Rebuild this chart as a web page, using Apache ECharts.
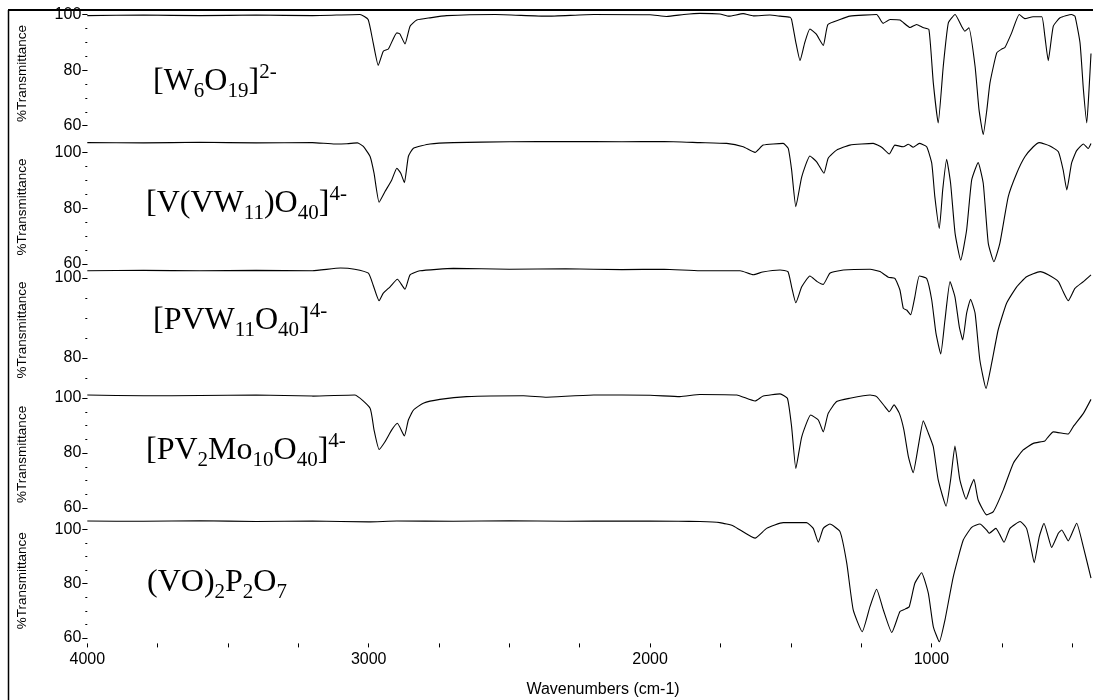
<!DOCTYPE html>
<html><head><meta charset="utf-8">
<script src="https://cdn.jsdelivr.net/npm/echarts@6/dist/echarts.min.js"></script>
<style>html,body{margin:0;padding:0;background:#fff}#c{width:1093px;height:700px}</style>
</head><body><div id="c"></div>
<script>
// ---- data: [wavenumber (cm-1), %Transmittance] ----
const spectrumW6O19 = [[4000,99.6],[3800,99.8],[3600,99.6],[3400,99.8],[3200,99.6],[3031,100],[3002,98.2],[2984,89.8],[2966,81.7],[2948,86.8],[2930,87.6],[2900,93.4],[2889,93.0],[2871,89.4],[2853,95.8],[2829,98.0],[2782,98.8],[2723,99.6],[2550,100.0],[2367,99.4],[2200,100.0],[2000,99.9],[1941,99.3],[1880,100.0],[1823,100.4],[1752,100.2],[1720,99.4],[1669,100.3],[1633,99.5],[1574,99.8],[1538,99.4],[1503,99.0],[1497,98.2],[1482,90],[1467,83.4],[1450,90],[1432,94.8],[1410,93],[1384.5,88.9],[1368,96.4],[1325,98.2],[1290,99.4],[1195,100],[1172,96.8],[1147,98.2],[1112,98],[1076,95.3],[1053,96.4],[1030,95.3],[1009,94.6],[993.5,75.5],[976,61],[958,81.4],[940,97],[916,100],[893,95.8],[881,94],[867,95.2],[845,81.4],[831,65.8],[816,56.8],[803,65.8],[792,75.4],[768,86.2],[750,87.6],[739,88.1],[715,93.4],[688,100],[668,98.5],[639,99.2],[608,99.2],[597,92.2],[585,83.4],[567,95.8],[543,98.8],[502,100],[490,99.4],[472,89.8],[460,73],[448,61],[440,73],[433,86]];
const spectrumVVW11O40 = [[4000,103.6],[3800,103.5],[3600,103.7],[3400,103.5],[3200,103.6],[3120,103.1],[3077,103.2],[3040,103.5],[3019,102.2],[2995,98.6],[2981,92.6],[2963,82.2],[2942,86],[2918,90.2],[2900,94.4],[2886,92.6],[2873,89.2],[2859,98.6],[2841,101.6],[2782,103.1],[2699,103.6],[2500,103.9],[2300,104],[2100,103.9],[1950,104],[1823,103.6],[1728,103.3],[1669,102.1],[1627,100.1],[1598,102.7],[1527,103.3],[1509,101.5],[1497,93.8],[1482,80.6],[1461,91.3],[1432,98.8],[1408,96.7],[1382,92.6],[1367,98],[1337,100.9],[1290,102.7],[1207,103.3],[1177,101.9],[1150,99.5],[1130,102.7],[1100,102.1],[1082,103],[1065,101.9],[1043,103.3],[1017,102.1],[999,96.2],[988,84.2],[972,72.8],[960,86.6],[946,97.6],[932,89],[916,71],[896,61.4],[875,72.2],[857,90.2],[834,96.4],[816,89],[798,67.4],[778,60.8],[757,67.4],[727,84.2],[697,92.6],[668,98.5],[638,102.1],[617,103.6],[579,102.4],[549,100.3],[532,93.8],[519,86.6],[502,96.2],[484,100.7],[460,103.1],[443,101.5],[433,103.3]];
const spectrumPVW11O40 = [[4000,101.8],[3800,101.9],[3600,101.8],[3400,101.9],[3200,101.8],[3100,102.5],[3050,102.2],[3001,101.2],[2984,98.2],[2963,94.3],[2948,96.2],[2924,97.8],[2898,99.7],[2871,97.2],[2853,100.8],[2818,101.8],[2699,102.4],[2500,102.2],[2300,102.3],[2100,102.1],[1950,102.2],[1823,101.8],[1680,101.8],[1633,100.8],[1600,101.5],[1538,102],[1510,101.6],[1497,97.8],[1482,93.8],[1461,97.8],[1432,100.5],[1406,99.1],[1384.5,98.4],[1361,101.2],[1313,102],[1218,102.2],[1183,101.6],[1153,100.2],[1130,99.9],[1112,97],[1100,92.4],[1088,92],[1074,90.8],[1059,95.3],[1043,100.5],[1017,99.9],[999,94.5],[984,86.2],[967,81],[952,89.5],[934,99.1],[916.5,95.3],[901,87.8],[889,84.5],[875,91.2],[861,94.7],[845,91.2],[828,79.5],[806,72.4],[786,78.7],[763,87],[733,93.7],[697,97.8],[662,100.3],[614,101.6],[585,100.8],[549,99.1],[532,96.6],[514,94.3],[490,97.4],[460,99.1],[433,100.8]];
const spectrumPV2Mo10O40 = [[4000,101.1],[3800,100.8],[3600,100.9],[3400,101.1],[3200,100.7],[3050,101.1],[2995,96.3],[2981,88.4],[2963,81.3],[2942,84.1],[2918,88.4],[2898,90.8],[2873,86.2],[2859,92],[2841,95.6],[2806,98.1],[2747,99.5],[2652,100.5],[2450,100.8],[2367,100.3],[2200,101.1],[2000,101],[1894,100.5],[1823,101.3],[1692,101.1],[1627,98.9],[1598,100.7],[1538,101.5],[1512,99.9],[1497,89.6],[1482,74.4],[1461,85.9],[1429,93.8],[1402,92],[1384.5,87.7],[1367,94.4],[1337,98.7],[1290,99.9],[1218,101.1],[1195,100.5],[1165,96.8],[1150,95],[1133,97.5],[1114,94.4],[1098,88.4],[1082,78.7],[1065,72.8],[1047,82.3],[1029,91.7],[1011,87.2],[993.5,82.3],[976,70.2],[948,60.7],[932,70.2],[916.5,82.5],[899,70.2],[877,63.2],[861,67.7],[849,70.4],[834,62.9],[804,57.5],[780,58.7],[745,66.5],[709,76.3],[674,81.1],[638,83.5],[597,84.4],[585,85.9],[567,87.7],[514,86.9],[496,89.6],[460,94.4],[433,99.5]];
const spectrumVO2P2O7 = [[4000,103],[3800,102.9],[3600,103.1],[3400,102.8],[3200,103],[3000,102.7],[2900,103],[2700,102.9],[2500,103.1],[2300,102.9],[2100,103],[1900,102.9],[1823,102.8],[1752,102.4],[1704,101.2],[1627,96.7],[1586,100.3],[1527,102.4],[1444,102.4],[1420,100.3],[1402,95.2],[1384.5,100.3],[1361,101.9],[1325,99.1],[1301,87.5],[1278,70.3],[1246,62.3],[1218.5,71.5],[1195,77.9],[1171,70.3],[1141,62],[1112,69.7],[1094,70.6],[1079,71.5],[1059,80.1],[1035,84],[1011,76.4],[993.5,64.2],[972,58.6],[952,66.6],[922.5,82.5],[887,96],[857,100.7],[828,101.9],[804,99.7],[795,98.5],[771,100.3],[756.5,97.9],[742,95.2],[721,100.3],[685,102.8],[662,100.3],[647,93.6],[635,87.7],[617,97.2],[600,102.2],[585,97.2],[573,93.3],[549,98.5],[537,99.7],[514,95.7],[484,102.2],[460.5,93.6],[433,82]];

const compoundNames = [
  '{b|[W}{s|6}{b|O}{s|19}{b|]}{p|2-}',
  '{b|[V(VW}{s|11}{b|)O}{s|40}{b|]}{p|4-}',
  '{b|[PVW}{s|11}{b|O}{s|40}{b|]}{p|4-}',
  '{b|[PV}{s|2}{b|Mo}{s|10}{b|O}{s|40}{b|]}{p|4-}',
  '{b|(VO)}{s|2}{b|P}{s|2}{b|O}{s|7}'
];
const xLabelValues = [1000, 2000, 3000, 4000];
const xTickValues = [500, 750, 1000, 1250, 1500, 1750, 2000, 2250, 2500, 2750, 3000, 3250, 3500, 3750, 4000];
const yMajorTicks = [[60, 80, 100], [60, 80, 100], [80, 100], [60, 80, 100], [60, 80, 100]];
const yMinorTicks = [
  [60, 65, 70, 75, 80, 85, 90, 95, 100],
  [60, 65, 70, 75, 80, 85, 90, 95, 100],
  [75, 80, 85, 90, 95, 100],
  [60, 65, 70, 75, 80, 85, 90, 95, 100],
  [60, 65, 70, 75, 80, 85, 90, 95, 100]
];
const xName = 'Wavenumbers (cm-1)';
const yName = '%Transmittance';

// ---- layout (not data) ----
const spectra = [spectrumW6O19, spectrumVVW11O40, spectrumPVW11O40, spectrumPV2Mo10O40, spectrumVO2P2O7];
const panels = [
  { top: 7.55,  height: 132.05, min: 55, max: 102.5, labelX: 153, labelY: 82 },
  { top: 135.9, height: 142.04, min: 55, max: 106,   labelX: 146, labelY: 204 },
  { top: 262,   height: 136,    min: 70, max: 104,   labelX: 153, labelY: 321 },
  { top: 387,   height: 134.75, min: 55, max: 104,   labelX: 146, labelY: 451 },
  { top: 518.3, height: 125.1,  min: 58, max: 104,   labelX: 147, labelY: 587 }
];
const SANS = '"Liberation Sans", Arial, sans-serif';
const SERIF = '"Liberation Serif", "Times New Roman", serif';
const XMIN = 433, XMAX = 4000;
const plain = v => String(v);

const grids = [], xAxes = [], yAxes = [], series = [], graphics = [];
panels.forEach((p, i) => {
  grids.push({ left: 87.3, right: 2, top: p.top, height: p.height });
  const last = i === panels.length - 1;
  xAxes.push({
    gridIndex: i, type: 'value', inverse: true, min: XMIN, max: XMAX, show: last,
    axisLine: { show: false }, splitLine: { show: false },
    axisTick: { show: true, length: 4, customValues: xTickValues, lineStyle: { color: '#000', width: 1 } },
    axisLabel: { customValues: xLabelValues, formatter: plain, margin: 8, fontSize: 16, color: '#000', fontFamily: SANS }
  });
  yAxes.push({
    gridIndex: i, type: 'value', position: 'left', min: p.min, max: p.max,
    axisLine: { show: false }, splitLine: { show: false },
    axisTick: { show: true, length: 5, customValues: yMajorTicks[i], lineStyle: { color: '#000', width: 1 } },
    axisLabel: { customValues: yMajorTicks[i], formatter: plain, margin: 6, fontSize: 16, color: '#000', fontFamily: SANS },
    name: yName, nameLocation: 'middle', nameGap: 58, nameRotate: 90,
    nameTextStyle: { fontSize: 13.5, color: '#000', fontFamily: SANS }
  });
  yAxes.push({
    gridIndex: i, type: 'value', position: 'left', offset: 0, min: p.min, max: p.max,
    axisLine: { show: false }, splitLine: { show: false },
    axisTick: { show: true, length: 2, customValues: yMinorTicks[i], lineStyle: { color: '#000', width: 1 } },
    axisLabel: { show: false }
  });
  series.push({
    type: 'line', xAxisIndex: i, yAxisIndex: 2 * i, data: spectra[i],
    showSymbol: false, smooth: 0.15, clip: false,
    lineStyle: { color: '#000', width: 1.1 }, silent: true
  });
  graphics.push({
    type: 'text', left: p.labelX, top: p.labelY - 20, z: 10,
    style: {
      text: compoundNames[i], fill: '#000',
      rich: {
        b: { fontSize: 32, fontFamily: SERIF, fill: '#000' },
        s: { fontSize: 21, fontFamily: SERIF, fill: '#000', padding: [19, 0, 0, 0] },
        p: { fontSize: 21, fontFamily: SERIF, fill: '#000', padding: [0, 0, 19, 0] }
      }
    }
  });
});
// x-axis title
graphics.push({
  type: 'text', x: 603, y: 690, z: 10,
  style: { text: xName, fill: '#000', fontSize: 16, fontFamily: SANS, align: 'center', verticalAlign: 'middle' }
});
// outer frame (top and left edges visible in the picture)
graphics.push({ type: 'line', shape: { x1: 8, y1: 10, x2: 1093, y2: 10 }, style: { stroke: '#000', lineWidth: 2 } });
graphics.push({ type: 'line', shape: { x1: 8.5, y1: 10, x2: 8.5, y2: 700 }, style: { stroke: '#000', lineWidth: 1.5 } });

const chart = echarts.init(document.getElementById('c'), null, { renderer: 'canvas' });
chart.setOption({
  animation: false,
  backgroundColor: '#fff',
  grid: grids, xAxis: xAxes, yAxis: yAxes, series: series, graphic: graphics
});
</script></body></html>
